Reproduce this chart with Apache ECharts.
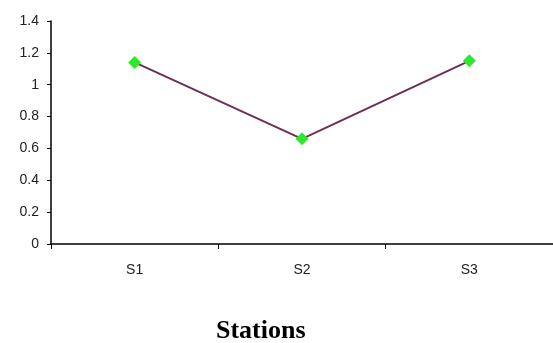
<!DOCTYPE html>
<html>
<head>
<meta charset="utf-8">
<script src="https://cdn.jsdelivr.net/npm/echarts@6/dist/echarts.min.js"></script>
<style>html,body{margin:0;padding:0;background:#fff;}#c{width:553px;height:343px;}</style>
</head>
<body>
<div id="c"></div>
<script>
var categories = ['S1', 'S2', 'S3'];
var values = [1.14, 0.66, 1.15];
var yTicks = [0, 0.2, 0.4, 0.6, 0.8, 1, 1.2, 1.4];

var chart = echarts.init(document.getElementById('c'), null, {renderer: 'canvas'});
chart.setOption({
  backgroundColor: '#ffffff',
  animation: false,
  title: {
    text: 'Stations',
    left: 216,
    top: 318,
    padding: 0,
    textStyle: {fontFamily: 'Liberation Serif', fontWeight: 'bold', fontSize: 26, color: '#000'}
  },
  grid: {left: 51, top: 21, width: 502, bottom: 99, containLabel: false},
  xAxis: {
    type: 'category',
    data: categories,
    boundaryGap: true,
    axisLine: {lineStyle: {color: '#000', width: 1.5}},
    axisTick: {show: true, length: 5, lineStyle: {color: '#000'}},
    axisLabel: {color: '#222', fontFamily: 'Liberation Sans', fontSize: 14, margin: 19},
    splitLine: {show: false}
  },
  yAxis: {
    type: 'value',
    min: 0,
    max: 1.4,
    interval: 0.2,
    axisLine: {show: true, lineStyle: {color: '#000', width: 1.5}},
    axisTick: {show: true, length: 4, lineStyle: {color: '#000'}},
    axisLabel: {
      color: '#222', fontFamily: 'Liberation Sans', fontSize: 14, margin: 12,
      formatter: function (v) { return String(parseFloat(v.toFixed(1))); }
    },
    splitLine: {show: false}
  },
  series: [{
    type: 'line',
    data: values,
    symbol: 'diamond',
    symbolSize: 13,
    lineStyle: {color: '#6e2f55', width: 2},
    itemStyle: {color: '#2ee82e', borderWidth: 0}
  }]
});
</script>
</body>
</html>
